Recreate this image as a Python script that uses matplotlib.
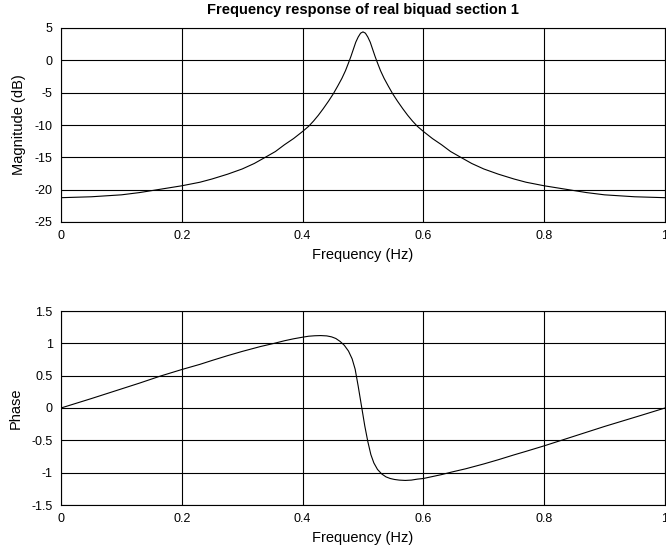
import matplotlib
matplotlib.use("Agg")
import matplotlib.pyplot as plt

# Magnitude response
mag_freq = [0.0, 0.05, 0.10, 0.13, 0.16, 0.20, 0.23, 0.25, 0.276, 0.30, 0.32,
            0.34, 0.355, 0.37, 0.385, 0.40, 0.41, 0.418, 0.426, 0.434, 0.443,
            0.451, 0.458, 0.465, 0.471, 0.476, 0.48, 0.484, 0.488, 0.492, 0.496,
            0.50,
            0.504, 0.508, 0.512, 0.516, 0.52, 0.524, 0.529, 0.535, 0.542, 0.549,
            0.557, 0.566, 0.574, 0.582, 0.59, 0.60, 0.615, 0.63, 0.645, 0.66,
            0.68, 0.70, 0.724, 0.75, 0.77, 0.80, 0.84, 0.87, 0.90, 0.95, 1.0]
mag_db = [-21.24, -21.1, -20.8, -20.45, -20.0, -19.4, -18.85, -18.35, -17.6, -16.8, -15.95,
          -14.9, -14.1, -13.05, -12.1, -11.0, -10.2, -9.4, -8.5, -7.5, -6.3,
          -5.15, -4.0, -2.8, -1.6, -0.4, 0.6, 1.7, 2.8, 3.6, 4.2,
          4.4,
          4.2, 3.6, 2.8, 1.7, 0.6, -0.4, -1.6, -2.8, -4.0, -5.15,
          -6.3, -7.5, -8.5, -9.4, -10.2, -11.0, -12.1, -13.05, -14.1, -14.9,
          -15.95, -16.8, -17.6, -18.35, -18.85, -19.4, -20.0, -20.45, -20.8, -21.1, -21.24]

# Phase response
ph_freq = [0.0, 0.05, 0.10, 0.13, 0.165, 0.20, 0.23, 0.25, 0.276, 0.30, 0.33,
           0.353, 0.37, 0.385, 0.40, 0.41, 0.42, 0.43, 0.44, 0.448, 0.455,
           0.462, 0.469, 0.476, 0.482, 0.487, 0.492, 0.4975, 0.503, 0.508,
           0.513, 0.518, 0.524, 0.531, 0.538, 0.545, 0.552, 0.56, 0.57, 0.58,
           0.59, 0.60, 0.615, 0.63, 0.647, 0.67, 0.70, 0.724, 0.75, 0.77, 0.80,
           0.835, 0.87, 0.90, 0.93, 0.96, 1.0]
ph_val = [0.0, 0.145, 0.295, 0.385, 0.495, 0.595, 0.675, 0.735, 0.81, 0.875, 0.95,
          1.00, 1.04, 1.07, 1.095, 1.11, 1.117, 1.12, 1.115, 1.10, 1.075,
          1.03, 0.97, 0.88, 0.76, 0.60, 0.34, 0.03, -0.28, -0.52,
          -0.72, -0.85, -0.95, -1.02, -1.065, -1.09, -1.105, -1.115, -1.12, -1.115,
          -1.10, -1.09, -1.06, -1.03, -0.99, -0.94, -0.865, -0.80, -0.725, -0.67, -0.585,
          -0.48, -0.375, -0.285, -0.20, -0.115, 0.0]

x_ticks = [0, 0.2, 0.4, 0.6, 0.8, 1]
x_tick_labels = ["0", "0.2", "0.4", "0.6", "0.8", "1"]
mag_ticks = [5, 0, -5, -10, -15, -20, -25]
ph_ticks = [1.5, 1, 0.5, 0, -0.5, -1, -1.5]
ph_tick_labels = ["1.5", "1", "0.5", "0", "-0.5", "-1", "-1.5"]

plt.rcParams['font.family'] = ['Liberation Sans', 'DejaVu Sans']

fig = plt.figure(figsize=(6.66, 5.47), dpi=100)
W, H = 666.0, 547.0
ax1 = fig.add_axes([61 / W, (H - 222) / H, 604 / W, 194 / H])
ax2 = fig.add_axes([61 / W, (H - 505) / H, 604 / W, 194 / H])

def style(ax):
    ax.grid(True, color='black', linewidth=0.8, linestyle='-')
    ax.set_axisbelow(True)
    for s in ax.spines.values():
        s.set_linewidth(0.8)
        s.set_color('black')
    ax.tick_params(direction='in', length=0, pad=6, labelsize=9, colors='black')

ax1.plot(mag_freq, mag_db, color='black', linewidth=0.8)
ax1.set_xlim(0, 1)
ax1.set_ylim(-25, 5)
ax1.set_xticks(x_ticks)
ax1.set_xticklabels(x_tick_labels)
ax1.set_yticks(mag_ticks)
ax1.set_yticklabels([str(v) for v in mag_ticks])
ax1.set_xlabel("Frequency (Hz)", fontsize=10.5, labelpad=4)
ax1.set_ylabel("Magnitude (dB)", fontsize=10.5, labelpad=6)
ax1.set_title("Frequency response of real biquad section 1", fontsize=10.5,
              fontweight='bold', pad=10)
style(ax1)

ax2.plot(ph_freq, ph_val, color='black', linewidth=0.8)
ax2.set_xlim(0, 1)
ax2.set_ylim(-1.5, 1.5)
ax2.set_xticks(x_ticks)
ax2.set_xticklabels(x_tick_labels)
ax2.set_yticks(ph_ticks)
ax2.set_yticklabels(ph_tick_labels)
ax2.set_xlabel("Frequency (Hz)", fontsize=10.5, labelpad=4)
ax2.set_ylabel("Phase", fontsize=10.5, labelpad=6)
style(ax2)

fig.savefig("out.png", dpi=100)
